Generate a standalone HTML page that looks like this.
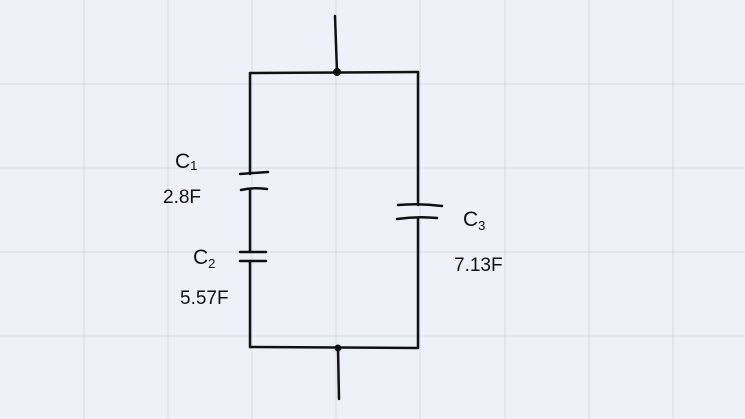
<!DOCTYPE html>
<html><head><style>
html,body{margin:0;padding:0;background:#eef1f7;}
svg{display:block}
text{font-family:"Liberation Sans",sans-serif;fill:#111;}
</style></head><body>
<svg width="745" height="419" viewBox="0 0 745 419">
<rect width="745" height="419" fill="#eef1f7"/>
<g stroke="#d6dae3" stroke-width="1">
<line x1="84" y1="0" x2="84" y2="419"/><line x1="168" y1="0" x2="168" y2="419"/>
<line x1="252" y1="0" x2="252" y2="419"/><line x1="336" y1="0" x2="336" y2="419"/>
<line x1="420" y1="0" x2="420" y2="419"/><line x1="505" y1="0" x2="505" y2="419"/>
<line x1="589" y1="0" x2="589" y2="419"/><line x1="673" y1="0" x2="673" y2="419"/>
<line x1="0" y1="84" x2="745" y2="84"/><line x1="0" y1="168" x2="745" y2="168"/>
<line x1="0" y1="252" x2="745" y2="252"/><line x1="0" y1="336" x2="745" y2="336"/>
</g>
<g stroke="#111" stroke-width="2.5" fill="none" stroke-linecap="round">
<line x1="335" y1="16" x2="337" y2="72"/>
<line x1="250" y1="73" x2="418" y2="72"/>
<line x1="250" y1="73" x2="250" y2="174"/>
<path d="M240 174 L268 172"/>
<path d="M241 190 Q254 187 267 189"/>
<line x1="250" y1="190" x2="250" y2="252"/>
<line x1="240" y1="252" x2="266" y2="252"/>
<line x1="240" y1="261" x2="266" y2="261"/>
<line x1="250" y1="261" x2="250" y2="347"/>
<line x1="250" y1="347" x2="418" y2="348"/>
<line x1="418" y1="72" x2="418" y2="205"/>
<path d="M398 205 Q420 203 442 206"/>
<path d="M397 219 Q417 216 437 218"/>
<line x1="418" y1="218" x2="418" y2="347"/>
<line x1="338" y1="348" x2="339" y2="399"/>
</g>
<circle cx="337" cy="72" r="4" fill="#111"/>
<circle cx="338" cy="348" r="3.5" fill="#111"/>
<text x="175" y="168" font-size="21">C<tspan font-size="13" dy="2">1</tspan></text>
<text x="163" y="203" font-size="19">2.8F</text>
<text x="193" y="264" font-size="21">C<tspan font-size="13" dy="4">2</tspan></text>
<text x="180" y="304" font-size="19">5.57F</text>
<text x="463" y="226" font-size="21">C<tspan font-size="13" dy="4">3</tspan></text>
<text x="454" y="271" font-size="19">7.13F</text>
</svg>
</body></html>
